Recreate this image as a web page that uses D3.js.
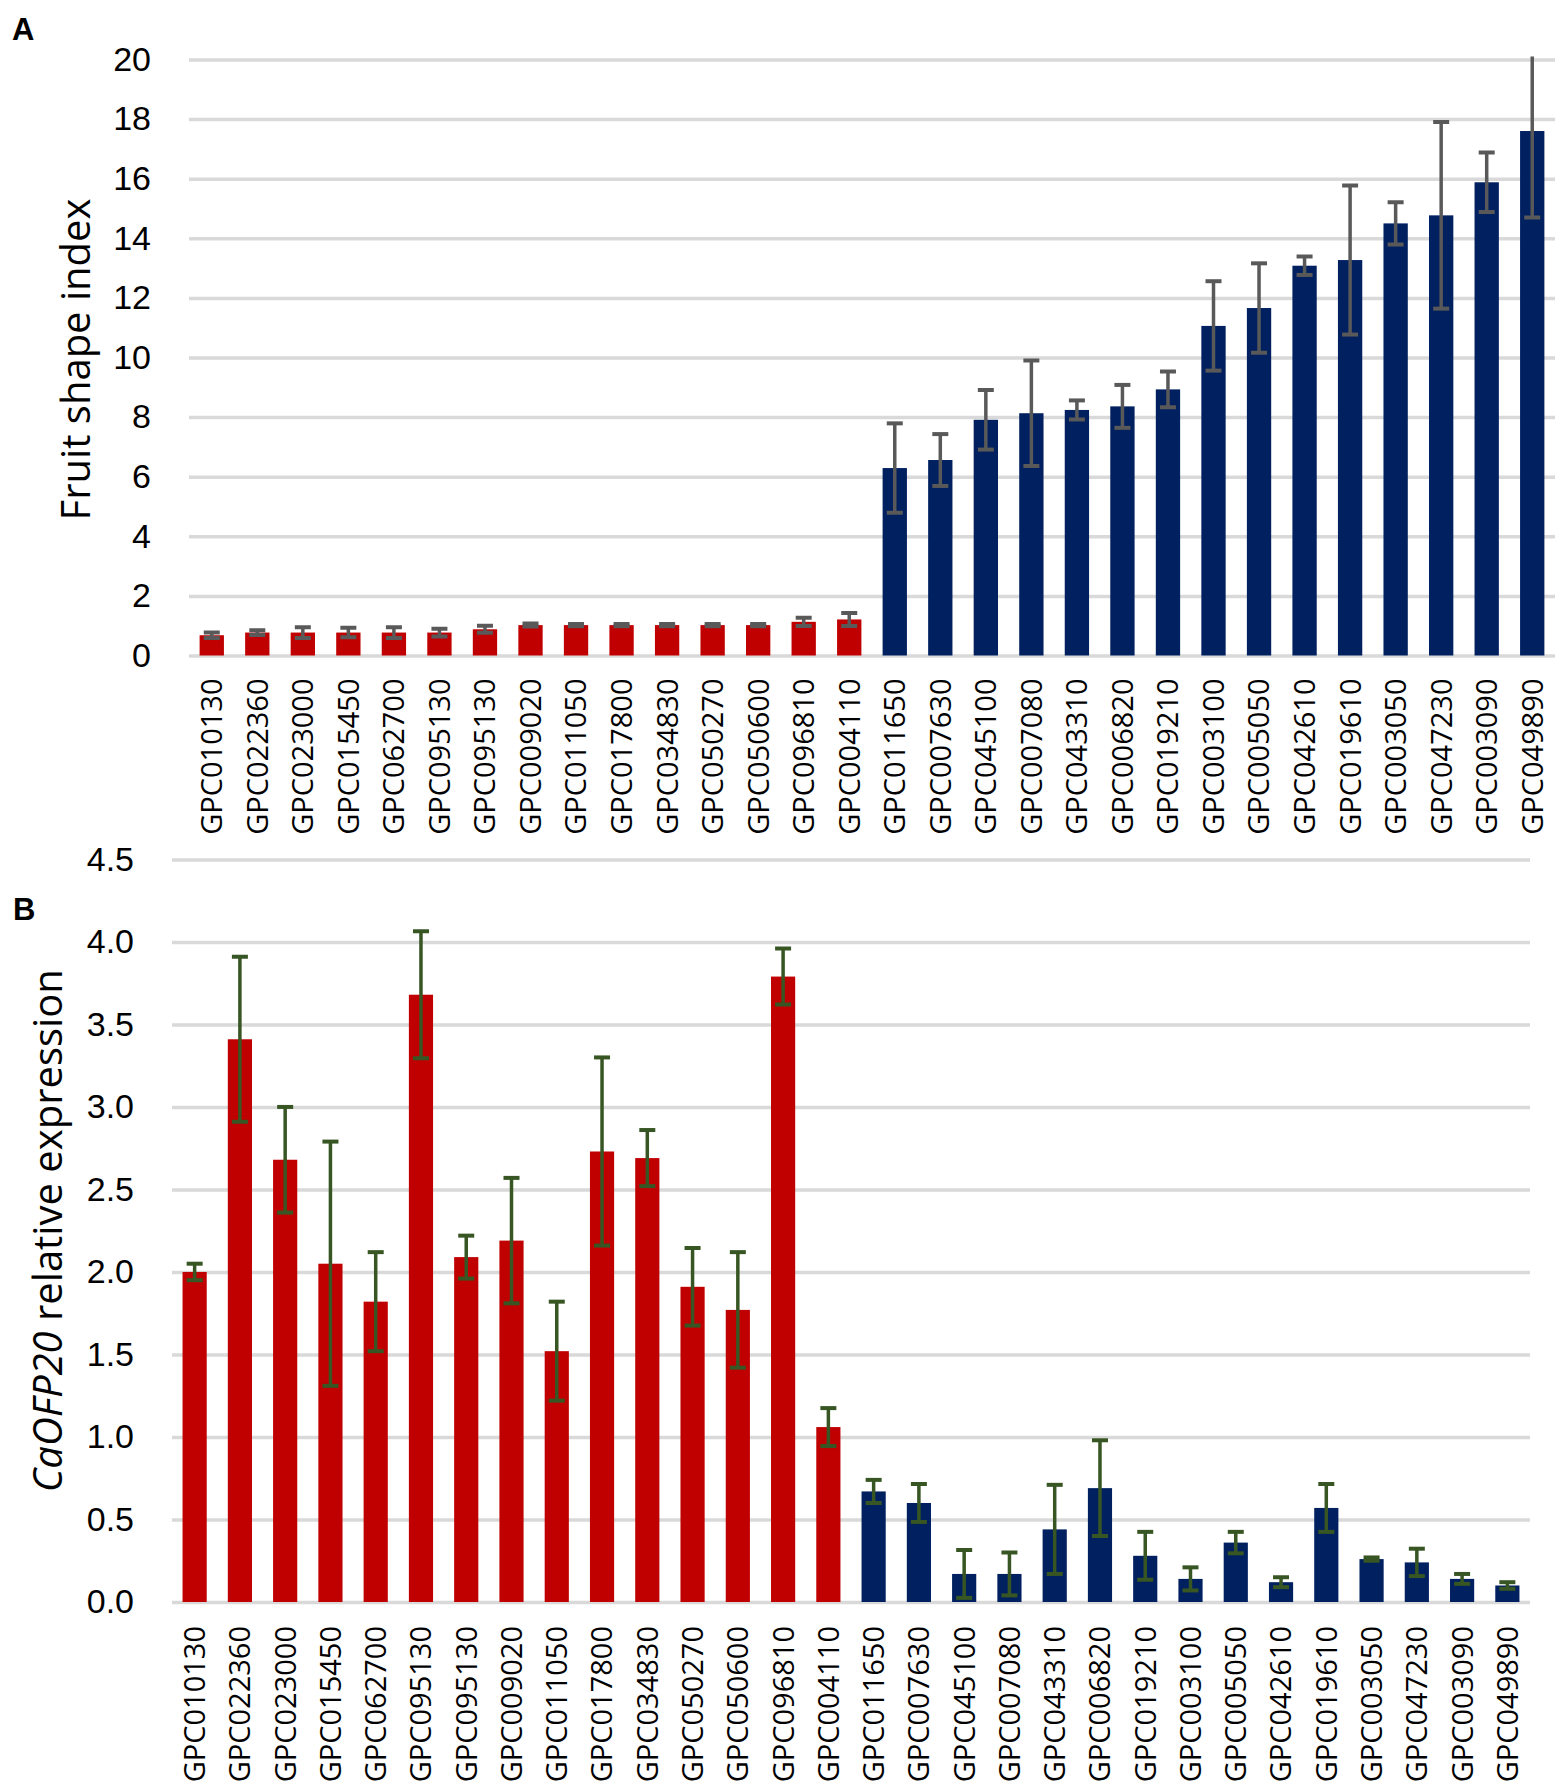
<!DOCTYPE html>
<html>
<head>
<meta charset="utf-8">
<script src="https://cdn.jsdelivr.net/npm/d3@7"></script>
<style>
  html, body { margin: 0; padding: 0; background: #fff; }
  svg { display: block; font-family: "Open Sans", "Noto Sans", sans-serif; }
</style>
</head>
<body>
<div id="chart"></div>
<script>
// genotypes, same order in both panels (GPC095130 appears twice in the source)
const genotypes = [
  "GPC010130", "GPC022360", "GPC023000", "GPC015450", "GPC062700",
  "GPC095130", "GPC095130", "GPC009020", "GPC011050", "GPC017800",
  "GPC034830", "GPC050270", "GPC050600", "GPC096810", "GPC004110",
  "GPC011650", "GPC007630", "GPC045100", "GPC007080", "GPC043310",
  "GPC006820", "GPC019210", "GPC003100", "GPC005050", "GPC042610",
  "GPC019610", "GPC003050", "GPC047230", "GPC003090", "GPC049890"
];
// r = round fruit (red), e = elongated fruit (blue)
const fruitGroup = [
  "r", "r", "r", "r", "r", "r", "r", "r", "r", "r", "r", "r", "r", "r", "r",
  "e", "e", "e", "e", "e", "e", "e", "e", "e", "e", "e", "e", "e", "e", "e"
];

// panel A: fruit shape index
const fsiMean = [0.68, 0.77, 0.77, 0.77, 0.77, 0.77, 0.88, 1.02, 1.02, 1.02,
  1.02, 1.02, 1.02, 1.13, 1.21, 6.29, 6.56, 7.91, 8.13, 8.24,
  8.36, 8.93, 11.06, 11.66, 13.08, 13.27, 14.50, 14.77, 15.88, 17.60];
const fsiErr = [0.09, 0.08, 0.18, 0.16, 0.18, 0.13, 0.12, 0.05, 0.04, 0.04,
  0.04, 0.04, 0.04, 0.14, 0.22, 1.50, 0.87, 1.00, 1.77, 0.32,
  0.72, 0.60, 1.50, 1.50, 0.31, 2.50, 0.71, 3.13, 1.00, 2.90];
const fsiTicks = [0, 2, 4, 6, 8, 10, 12, 14, 16, 18, 20];

// panel B: CaOFP20 relative expression
const exprMean = [2.00, 3.41, 2.68, 2.05, 1.82, 3.68, 2.09, 2.19, 1.52, 2.73,
  2.69, 1.91, 1.77, 3.79, 1.06, 0.67, 0.60, 0.17, 0.17, 0.44,
  0.69, 0.28, 0.14, 0.36, 0.12, 0.57, 0.26, 0.24, 0.14, 0.10];
const exprErr = [0.05, 0.50, 0.32, 0.74, 0.30, 0.385, 0.13, 0.38, 0.30, 0.57,
  0.17, 0.235, 0.35, 0.17, 0.115, 0.07, 0.115, 0.145, 0.13, 0.27,
  0.29, 0.145, 0.07, 0.065, 0.03, 0.145, 0.01, 0.083, 0.03, 0.02];
const exprTicks = [0, 0.5, 1, 1.5, 2, 2.5, 3, 3.5, 4, 4.5];

const colors = {r: "#c00000", e: "#002060"};
const gridColor = "#d9d9d9";

const svg = d3.select("#chart").append("svg")
  .attr("width", 1562)
  .attr("height", 1787);

function drawPanel(cfg) {
  const g = svg.append("g").attr("class", "panel" + cfg.id);
  const rows = genotypes.map((name, i) => ({
    index: i, name: name, group: fruitGroup[i], mean: cfg.mean[i], err: cfg.err[i]
  }));

  const xScale = d3.scaleBand()
    .domain(rows.map(d => d.index))
    .range([cfg.left, cfg.right])
    .paddingInner(0.466)
    .paddingOuter(0.233);
  const yScale = d3.scaleLinear()
    .domain([0, d3.max(cfg.ticks)])
    .range([cfg.bottom, cfg.top]);

  // gridlines + tick labels
  const yAxis = g.append("g")
    .attr("transform", "translate(" + cfg.left + ",0)")
    .call(d3.axisLeft(yScale)
      .tickValues(cfg.ticks)
      .tickSize(-(cfg.right - cfg.left))
      .tickPadding(cfg.labelGap)
      .tickFormat(cfg.format));
  yAxis.select(".domain").remove();
  yAxis.selectAll(".tick line")
    .attr("stroke", gridColor)
    .attr("stroke-width", 3.5);
  yAxis.selectAll(".tick text")
    .attr("fill", "#000")
    .style("font-size", "34px");

  // bars
  g.append("g").selectAll("rect")
    .data(rows)
    .join("rect")
    .attr("x", d => xScale(d.index))
    .attr("width", xScale.bandwidth())
    .attr("y", d => yScale(d.mean))
    .attr("height", d => yScale(0) - yScale(d.mean))
    .attr("fill", d => colors[d.group]);

  // error bars, clipped to the plot area
  const clipId = "clip" + cfg.id;
  g.append("clipPath").attr("id", clipId)
    .append("rect")
    .attr("x", cfg.left)
    .attr("y", cfg.top - 3)
    .attr("width", cfg.right - cfg.left)
    .attr("height", cfg.bottom - cfg.top + 3);

  const capHalf = 8;
  const errG = g.append("g")
    .attr("clip-path", "url(#" + clipId + ")")
    .attr("stroke", cfg.errColor)
    .attr("fill", "none");
  const eb = errG.selectAll("g")
    .data(rows)
    .join("g")
    .attr("transform", d => "translate(" + (xScale(d.index) + xScale.bandwidth() / 2) + ",0)");
  eb.append("line")
    .attr("stroke-width", 3.5)
    .attr("y1", d => yScale(d.mean + d.err))
    .attr("y2", d => yScale(Math.max(0, d.mean - d.err)));
  eb.append("line")
    .attr("stroke-width", 4)
    .attr("x1", -capHalf).attr("x2", capHalf)
    .attr("y1", d => yScale(d.mean + d.err))
    .attr("y2", d => yScale(d.mean + d.err));
  eb.append("line")
    .attr("stroke-width", 4)
    .attr("x1", -capHalf).attr("x2", capHalf)
    .attr("y1", d => yScale(Math.max(0, d.mean - d.err)))
    .attr("y2", d => yScale(Math.max(0, d.mean - d.err)));

  // category labels, rotated
  g.append("g").selectAll("text")
    .data(rows)
    .join("text")
    .attr("transform", d => "translate(" + (xScale(d.index) + xScale.bandwidth() / 2) + "," + (cfg.bottom + cfg.catGap) + ") rotate(-90)")
    .attr("text-anchor", "end")
    .attr("dy", "0.36em")
    .attr("fill", "#000")
    .style("font-size", "29px")
    .text(d => d.name);

  // y title
  const title = g.append("text")
    .attr("transform", "translate(" + cfg.titleX + "," + ((cfg.top + cfg.bottom) / 2 + cfg.titleShift) + ") rotate(-90)")
    .attr("text-anchor", "middle")
    .attr("fill", "#000")
    .style("font-size", "40px");
  cfg.title.forEach(part => {
    title.append("tspan")
      .style("font-style", part.italic ? "italic" : "normal")
      .text(part.text);
  });

  // panel letter
  g.append("text")
    .attr("x", cfg.letterX)
    .attr("y", cfg.letterY)
    .style("font-family", "'Liberation Sans', Arial, sans-serif")
    .style("font-weight", "bold")
    .style("font-size", "31px")
    .attr("fill", "#000")
    .text(cfg.id);
}

drawPanel({
  id: "A",
  mean: fsiMean, err: fsiErr, ticks: fsiTicks,
  format: d3.format("d"),
  left: 189, right: 1555, top: 59.5, bottom: 655.5,
  labelGap: 38, catGap: 23,
  errColor: "#595959",
  title: [{text: "Fruit shape index", italic: false}],
  titleX: 90, titleShift: 2,
  letterX: 12, letterY: 40
});

drawPanel({
  id: "B",
  mean: exprMean, err: exprErr, ticks: exprTicks,
  format: d3.format(".1f"),
  left: 172, right: 1530, top: 859.4, bottom: 1602,
  labelGap: 38, catGap: 24,
  errColor: "#375623",
  title: [{text: "CaOFP20", italic: true}, {text: " relative expression", italic: false}],
  titleX: 62, titleShift: 0,
  letterX: 13, letterY: 920
});
</script>
</body>
</html>
